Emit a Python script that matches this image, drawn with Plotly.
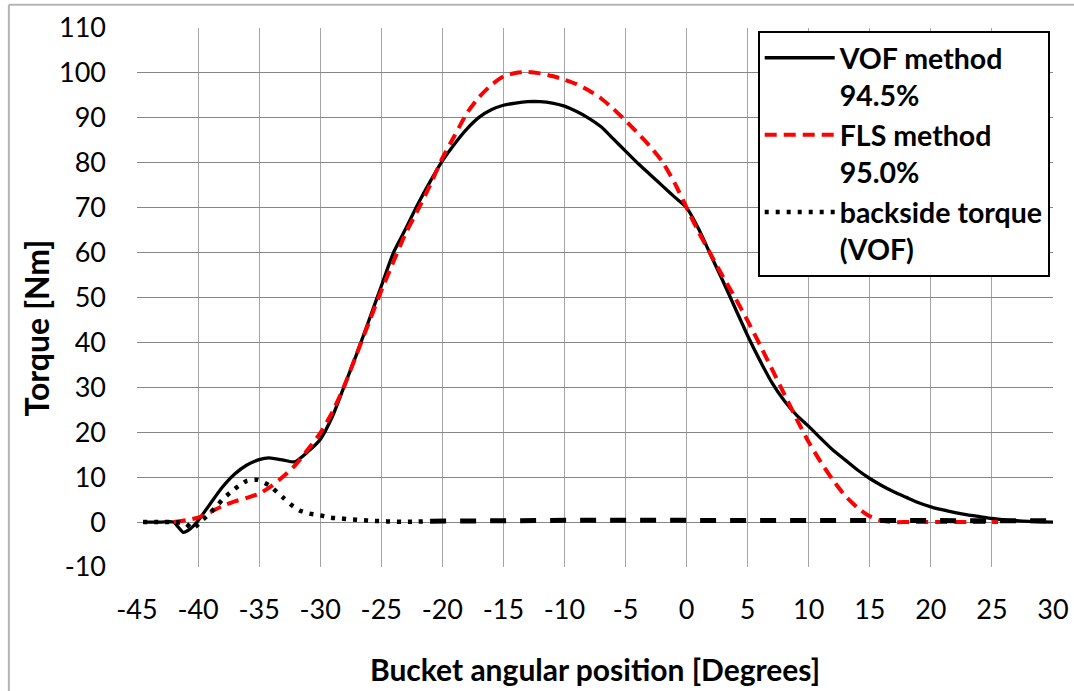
import plotly.graph_objects as go

# ---------------- data ----------------
vof_x = [-44.5, -44, -43, -42, -41.6, -41.2, -40.6, -40, -39, -38, -37, -36, -35, -34.2, -33, -32.1,
         -31, -30, -29, -28, -27, -26, -25, -24, -23, -22, -21, -20, -19, -18, -17, -16,
         -15, -14, -13, -12, -11, -10, -9, -8, -7, -6, -5, -4, -3, -2, -1, 0,
         1, 2, 3, 4, 5, 6, 7, 8, 9, 10, 11, 12, 13, 14, 15, 16, 17, 18, 19, 20,
         21, 22, 23, 24, 25, 26, 27, 28, 29, 30]
vof_y = [0, 0, 0, 0, -1.2, -2.3, -1.4, 0.3, 4.1, 7.8, 10.7, 12.7, 13.9, 14.3, 13.8, 13.4,
         15.7, 18.4, 23.5, 30.5, 37.5, 45, 52.5, 60, 65.3, 70.8, 75.8, 80.4, 84.2, 87.5, 90.1, 91.8,
         92.8, 93.3, 93.6, 93.6, 93.3, 92.6, 91.4, 89.9, 88.0, 85.3, 82.6, 79.9, 77.4, 74.9, 72.4, 70,
         65.2, 59.3, 53.5, 47.5, 41.5, 36, 31, 27, 23.8, 21.3, 18.6, 16, 13.8, 11.6, 9.7, 8.1, 6.7, 5.5, 4.3, 3.4,
         2.7, 2.1, 1.6, 1.2, 0.8, 0.5, 0.3, 0.15, 0.05, 0]

fls_x = [-42, -41, -40, -39, -38, -37, -36, -35, -34, -33, -32, -31, -30, -29, -28, -27,
         -26, -25, -24, -23, -22, -21, -20, -19, -18, -17, -16, -15, -14, -13, -12, -11,
         -10, -9, -8, -7, -6, -5, -4, -3, -2, -1, 0, 1, 2, 3, 4, 5,
         6, 7, 8, 9, 10, 11, 12, 13, 14, 15, 16, 17, 18, 19, 20, 21, 22, 23, 24, 25, 25.5]
fls_y = [0, 0.4, 1.0, 2.2, 3.6, 4.6, 5.4, 6.3, 8.0, 10.2, 12.8, 16.2, 19.8, 24.5, 30.5, 37.5,
         44.5, 51.5, 58, 64.3, 69.5, 75, 81, 86, 91, 94.6, 97.3, 99.2, 100.0, 100.2, 99.9, 99.3,
         98.5, 97.5, 96.1, 94.3, 92.0, 89.4, 86.6, 83.7, 80.3, 75.6, 70, 64.5, 59.5, 54.5, 49.8, 44.8,
         39.5, 34, 28.5, 23, 17.8, 13.3, 9.3, 5.8, 3.2, 1.3, 0.3, 0, 0, 0, 0, 0, 0, 0, 0, 0, 0]

back_x = [-44.5, -43, -42, -41, -40.5, -40, -39.8, -39.2, -38.6, -38, -37.4, -36.7, -36, -35.1,
          -34.2, -33.1, -32.4, -31.7, -30.9, -30, -29.2, -28.3, -27.5, -26.6, -25.8, -24.9, -24.1, -23, -22, -21,
          -18, -15, -12, -9, -6, -3, 0, 3, 6, 9, 12, 15, 18, 21, 24, 27, 30]
back_y = [0, 0, 0, -0.3, -1.5, -0.5, 0.1, 1.5, 3.2, 5.0, 6.5, 8.0, 9.2, 9.4,
          8.2, 5.6, 3.9, 2.6, 1.9, 1.5, 1.0, 0.8, 0.6, 0.45, 0.3, 0.2, 0.1, 0.05, 0.1, 0.2,
          0.3, 0.35, 0.4, 0.4, 0.4, 0.4, 0.4, 0.4, 0.4, 0.4, 0.4, 0.4, 0.3, 0.3, 0.3, 0.3, 0.3]
back_split = -21  # dotted up to here, dashed beyond

x_ticks = list(range(-45, 31, 5))
y_ticks = list(range(-10, 111, 10))

vof_name = "VOF method<br>94.5%"
fls_name = "FLS method<br>95.0%"
back_name = "backside torque<br>(VOF)"
x_title = "Bucket angular position [Degrees]"
y_title = "Torque [Nm]"

# ---------------- figure ----------------
FONT = "Lato"
W, H = 1074, 691
L, R, T, B = 136.7, 20.7, 28.3, 124.3
PW, PH = W - L - R, H - T - B


def px_x(p):  # pixel -> paper x
    return (p - L) / PW


def px_y(p):  # pixel -> paper y
    return (H - B - p) / PH


def bold(s):
    return "<br>".join("<b>%s</b>" % part for part in s.split("<br>"))


fig = go.Figure()
fig.add_trace(go.Scatter(x=vof_x, y=vof_y, mode="lines", name=bold(vof_name),
                         line=dict(color="black", width=3.3, shape="spline", smoothing=0.6)))
fig.add_trace(go.Scatter(x=fls_x, y=fls_y, mode="lines", name=bold(fls_name),
                         line=dict(color="#FF0000", width=4, dash="12px,7px", shape="spline", smoothing=0.6)))
bx1 = [x for x in back_x if x <= back_split]
by1 = [y for x, y in zip(back_x, back_y) if x <= back_split]
bx2 = [x for x in back_x if x >= back_split]
by2 = [y for x, y in zip(back_x, back_y) if x >= back_split]
fig.add_trace(go.Scatter(x=bx1, y=by1, mode="lines", name=bold(back_name),
                         line=dict(color="black", width=4.5, dash="4px,7px", shape="spline", smoothing=0.6)))
fig.add_trace(go.Scatter(x=bx2, y=by2, mode="lines", showlegend=False,
                         line=dict(color="black", width=5, dash="16px,14px")))

fig.update_layout(
    width=W, height=H,
    margin=dict(l=L, r=R, t=T, b=B, autoexpand=False),
    paper_bgcolor="white", plot_bgcolor="white",
    font=dict(family=FONT, color="black", size=27),
    showlegend=True,
    legend=dict(
        x=px_x(1050), xanchor="right",
        y=px_y(31), yanchor="top",
        bgcolor="white", bordercolor="black", borderwidth=2,
        font=dict(family=FONT, size=28.5, color="black"),
        itemwidth=70, valign="top", tracegroupgap=0,
    ),
    shapes=[
        dict(type="line", xref="paper", yref="paper",
             x0=px_x(8.5), x1=px_x(8.5), y0=px_y(5), y1=px_y(H + 10),
             line=dict(color="#B4B4B4", width=2)),
        dict(type="line", xref="paper", yref="paper",
             x0=px_x(8.5), x1=px_x(W + 10), y0=px_y(5), y1=px_y(5),
             line=dict(color="#B4B4B4", width=2)),
    ],
    annotations=[
        dict(text="<b>%s</b>" % y_title, xref="paper", yref="paper",
             x=px_x(36), y=px_y(328), xanchor="center", yanchor="middle",
             textangle=-90, showarrow=False, font=dict(family=FONT, size=32, color="black")),
    ],
)
fig.update_xaxes(
    range=[-45, 30], tickvals=x_ticks, ticktext=[str(v) for v in x_ticks],
    showgrid=True, gridcolor="#A6A6A6", gridwidth=1.3, zeroline=False,
    showline=False, ticks="", ticklabelstandoff=24,
    tickfont=dict(family=FONT, size=27),
    title=dict(text="<b>%s</b>" % x_title, font=dict(family=FONT, size=30), standoff=35),
)
fig.update_yaxes(
    range=[-10, 110], tickvals=y_ticks, ticktext=[str(v) for v in y_ticks],
    showgrid=True, gridcolor="#868686", gridwidth=1.3, zeroline=False,
    showline=False, ticks="", ticklabelstandoff=30,
    tickfont=dict(family=FONT, size=27),
)

fig.write_html("out.html", config={"displayModeBar": False},
               post_script="document.body.style.margin='0px';document.body.style.overflow='hidden';")
